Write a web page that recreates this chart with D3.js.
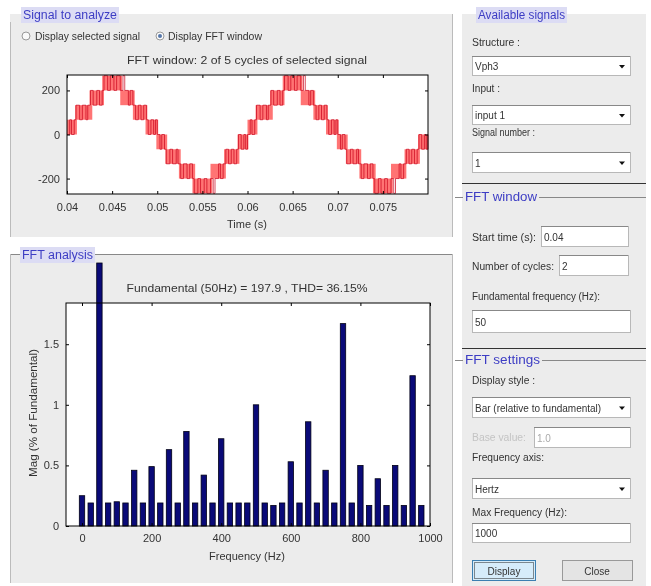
<!DOCTYPE html>
<html>
<head>
<meta charset="utf-8">
<script src="https://cdn.jsdelivr.net/npm/d3@7"></script>
<style>
  body { margin: 0; background: #fff; }
  svg { filter: blur(0.35px); }
  svg text { font-family: "Liberation Sans", Arial, sans-serif; fill: #333; }
</style>
</head>
<body>
<div id="chart"></div>
<script>
// FFT spectrum, bars every 25 Hz (% of fundamental)
const freqs = [0, 25, 50, 75, 100, 125, 150, 175, 200, 225, 250, 275, 300, 325, 350, 375,
  400, 425, 450, 475, 500, 525, 550, 575, 600, 625, 650, 675, 700, 725, 750, 775,
  800, 825, 850, 875, 900, 925, 950, 975]
const mags = [0.25, 0.19, 2.17, 0.19, 0.2, 0.19, 0.46, 0.19, 0.49, 0.19, 0.63, 0.19, 0.78, 0.19, 0.42, 0.19,
  0.72, 0.19, 0.19, 0.19, 1.0, 0.19, 0.17, 0.19, 0.53, 0.19, 0.86, 0.19, 0.46, 0.19, 1.67, 0.19,
  0.5, 0.17, 0.39, 0.17, 0.5, 0.17, 1.24, 0.17]
const freqTicks = [0, 200, 400, 600, 800, 1000]
const magTicks = [0, 0.5, 1, 1.5]
const magTickLabels = ['0', '0.5', '1', '1.5']

// signal: dense switching bands (ms, V)
const bandStart = [40.0, 40.9, 42.5, 43.9, 45.9, 47.3, 48.7, 49.9, 50.9, 52.4, 53.9, 55.9, 57.4, 58.9,
  60.0, 60.9, 62.5, 63.9, 65.9, 67.3, 68.7, 69.9, 70.9, 72.4, 73.9, 75.9, 77.4, 78.9]
const bandEnd = [41.1, 42.8, 44.1, 46.1, 47.5, 48.9, 50.1, 51.1, 52.6, 54.2, 56.1, 57.6, 59.1, 60.1,
  61.1, 62.8, 64.1, 66.1, 67.5, 68.9, 70.1, 71.1, 72.6, 74.2, 76.1, 77.6, 79.1, 80.0]
const bandLow = [0, 67, 133, 200, 133, 67, 0, -67, -133, -200, -267, -200, -133, -67,
  0, 67, 133, 200, 133, 67, 0, -67, -133, -200, -267, -200, -133, -67]
const bandHigh = [67, 133, 200, 267, 200, 133, 67, 0, -67, -133, -200, -133, -67, 0,
  67, 133, 200, 267, 200, 133, 67, 0, -67, -133, -200, -133, -67, 0]

// signal: switching instants (ms) and levels (V), held until the next instant
const sigTime = [
  40.0, 40.3, 40.5, 40.8, 41.0, 41.4, 41.7, 42.1, 42.3, 42.6, 42.9, 43.3, 43.6, 43.9, 44.1, 44.5, 44.8,
  45.2, 45.5, 45.9, 46.2, 46.4, 46.8, 47.0, 47.3, 47.6, 47.9, 48.2, 48.5, 48.8, 49.0, 49.3, 49.6, 49.8,
  50.0, 50.3, 50.5, 50.8, 51.0, 51.4, 51.7, 52.1, 52.3, 52.6, 52.9, 53.3, 53.6, 53.9, 54.1, 54.5, 54.8,
  55.2, 55.5, 55.9, 56.2, 56.4, 56.8, 57.0, 57.3, 57.6, 57.9, 58.2, 58.5, 58.8, 59.0, 59.3, 59.6, 59.8,
  60.0, 60.3, 60.5, 60.8, 61.0, 61.4, 61.7, 62.1, 62.3, 62.6, 62.9, 63.3, 63.6, 63.9, 64.1, 64.5, 64.8,
  65.2, 65.5, 65.9, 66.2, 66.4, 66.8, 67.0, 67.3, 67.6, 67.9, 68.2, 68.5, 68.8, 69.0, 69.3, 69.6, 69.8,
  70.0, 70.3, 70.5, 70.8, 71.0, 71.4, 71.7, 72.1, 72.3, 72.6, 72.9, 73.3, 73.6, 73.9, 74.1, 74.5, 74.8,
  75.2, 75.5, 75.9, 76.2, 76.4, 76.8, 77.0, 77.3, 77.6, 77.9, 78.2, 78.5, 78.8, 79.0, 79.3, 79.6, 79.8, 80.0]
const sigVolt = [
  0, 67, 0, 67, 133, 67, 133, 67, 133, 200, 133, 200, 133, 200, 267, 200, 267,
  200, 267, 200, 267, 200, 133, 200, 133, 67, 133, 67, 133, 67, 0, 67, 0, 67,
  0, -67, 0, -67, -133, -67, -133, -67, -133, -200, -133, -200, -133, -200, -267, -200, -267,
  -200, -267, -200, -267, -200, -133, -200, -133, -67, -133, -67, -133, -67, 0, -67, 0, -67,
  0, 67, 0, 67, 133, 67, 133, 67, 133, 200, 133, 200, 133, 200, 267, 200, 267,
  200, 267, 200, 267, 200, 133, 200, 133, 67, 133, 67, 133, 67, 0, 67, 0, 67,
  0, -67, 0, -67, -133, -67, -133, -67, -133, -200, -133, -200, -133, -200, -267, -200, -267,
  -200, -267, -200, -267, -200, -133, -200, -133, -67, -133, -67, -133, -67, 0, -67, 0, -67, 0]
const timeTicks = [0.04, 0.045, 0.05, 0.055, 0.06, 0.065, 0.07, 0.075]
const timeTickLabels = ['0.04', '0.045', '0.05', '0.055', '0.06', '0.065', '0.07', '0.075']
const voltTicks = [-200, 0, 200]
const voltTickLabels = ['-200', '0', '200']

const W = 651, H = 586
const svg = d3.select('#chart').append('svg')
  .attr('width', W).attr('height', H)

const gray = '#ececec'
const titleBlue = '#3d3dc4'

// ---------- panels ----------
svg.append('rect').attr('x', 10).attr('y', 14).attr('width', 443).attr('height', 223).attr('fill', gray)
svg.append('rect').attr('x', 10).attr('y', 254).attr('width', 443).attr('height', 329).attr('fill', gray)
svg.append('rect').attr('x', 462).attr('y', 14).attr('width', 184).attr('height', 572).attr('fill', gray)
svg.append('line').attr('x1', 10.5).attr('x2', 10.5).attr('y1', 22).attr('y2', 237).attr('stroke', '#bbb')
svg.append('line').attr('x1', 452.5).attr('x2', 452.5).attr('y1', 14).attr('y2', 237).attr('stroke', '#bbb')
svg.append('line').attr('x1', 10).attr('x2', 453).attr('y1', 254.5).attr('y2', 254.5).attr('stroke', '#888')
svg.append('line').attr('x1', 10.5).attr('x2', 10.5).attr('y1', 254).attr('y2', 583).attr('stroke', '#bbb')
svg.append('line').attr('x1', 452.5).attr('x2', 452.5).attr('y1', 254).attr('y2', 583).attr('stroke', '#bbb')

function groupTitle (x, y, text, w) {
  svg.append('rect').attr('x', x - 2).attr('y', y - 8).attr('width', w + 4).attr('height', 16).attr('fill', '#dcdcf4')
  svg.append('text').attr('x', x).attr('y', y).attr('dy', '0.35em')
    .attr('textLength', w).attr('lengthAdjust', 'spacingAndGlyphs')
    .style('font-size', '12px').style('fill', titleBlue).text(text)
}
groupTitle(23, 15, 'Signal to analyze', 94)
groupTitle(22, 255, 'FFT analysis', 71)
groupTitle(478, 15, 'Available signals', 87)

// radio buttons
svg.append('circle').attr('cx', 26).attr('cy', 36).attr('r', 4).attr('fill', '#fafafa').attr('stroke', '#999')
svg.append('text').attr('x', 35).attr('y', 36).attr('dy', '0.35em').attr('textLength', 105)
  .attr('lengthAdjust', 'spacingAndGlyphs').style('font-size', '10px').text('Display selected signal')
svg.append('circle').attr('cx', 160).attr('cy', 36).attr('r', 4).attr('fill', '#fafafa').attr('stroke', '#999')
svg.append('circle').attr('cx', 160).attr('cy', 36).attr('r', 2).attr('fill', '#5577aa')
svg.append('text').attr('x', 168).attr('y', 36).attr('dy', '0.35em').attr('textLength', 94)
  .attr('lengthAdjust', 'spacingAndGlyphs').style('font-size', '10px').text('Display FFT window')

// ---------- signal plot ----------
const xT = d3.scaleLinear().domain([0.04, 0.08]).range([67, 428])
const yT = d3.scaleLinear().domain([-270, 270]).range([194, 75])

svg.append('rect').attr('x', 67).attr('y', 75).attr('width', 361).attr('height', 119).attr('fill', '#fff')

const sig = svg.append('g')
sig.selectAll('rect.band')
  .data(bandStart)
  .enter().append('rect')
    .attr('class', 'band')
    .attr('x', (d, i) => xT(d / 1000))
    .attr('width', (d, i) => xT(bandEnd[i] / 1000) - xT(d / 1000))
    .attr('y', (d, i) => yT(Math.min(270, bandHigh[i])))
    .attr('height', (d, i) => yT(Math.max(-270, bandLow[i])) - yT(Math.min(270, bandHigh[i])))
    .attr('fill', '#ff5c5c').attr('opacity', 0.85)

const sigPts = sigTime.map((t, i) => [t / 1000, Math.max(-270, Math.min(270, sigVolt[i]))])
sig.append('path')
  .datum(sigPts)
  .attr('fill', 'none').attr('stroke', '#c8001a').attr('stroke-width', 0.7)
  .attr('d', d3.line().x(d => xT(d[0])).y(d => yT(d[1])).curve(d3.curveStepAfter))

svg.append('rect').attr('x', 67).attr('y', 75).attr('width', 361).attr('height', 119)
  .attr('fill', 'none').attr('stroke', '#000')

function styleAxis (g) {
  g.select('.domain').remove()
  g.selectAll('line').attr('stroke', '#000')
  g.selectAll('text').style('font-size', '11px').style('fill', '#333')
}

svg.append('g').attr('transform', 'translate(0,194)')
  .call(d3.axisBottom(xT).tickValues(timeTicks).tickFormat((d, i) => timeTickLabels[i]).tickSizeInner(-3).tickPadding(9))
  .call(styleAxis)
svg.append('g').attr('transform', 'translate(0,75)')
  .call(d3.axisTop(xT).tickValues(timeTicks).tickFormat('').tickSizeInner(-3))
  .call(styleAxis)
svg.append('g').attr('transform', 'translate(67,0)')
  .call(d3.axisLeft(yT).tickValues(voltTicks).tickFormat((d, i) => voltTickLabels[i]).tickSizeInner(-3).tickPadding(7))
  .call(styleAxis)
svg.append('g').attr('transform', 'translate(428,0)')
  .call(d3.axisRight(yT).tickValues(voltTicks).tickFormat('').tickSizeInner(-3))
  .call(styleAxis)

svg.append('text').attr('x', 247).attr('y', 60).attr('text-anchor', 'middle').attr('dy', '0.35em')
  .attr('textLength', 240).attr('lengthAdjust', 'spacingAndGlyphs')
  .style('font-size', '11px').text('FFT window: 2 of 5 cycles of selected signal')
svg.append('text').attr('x', 247).attr('y', 224).attr('text-anchor', 'middle').attr('dy', '0.35em')
  .style('font-size', '11px').text('Time (s)')

// ---------- FFT bar plot ----------
const xF = d3.scaleLinear().domain([-46, 1000]).range([66, 430])
const yF = d3.scaleLinear().domain([0, 1.84]).range([526, 303])
const barW = (xF(25) - xF(0)) * 0.62

svg.append('rect').attr('x', 66).attr('y', 303).attr('width', 364).attr('height', 223).attr('fill', '#fff')

svg.selectAll('rect.bar')
  .data(freqs)
  .enter().append('rect')
    .attr('class', 'bar')
    .attr('x', d => xF(d) - barW / 2)
    .attr('width', barW)
    .attr('y', (d, i) => yF(mags[i]))
    .attr('height', (d, i) => yF(0) - yF(mags[i]))
    .attr('fill', '#0a0a78').attr('stroke', '#000014').attr('stroke-width', 0.8)

svg.append('rect').attr('x', 66).attr('y', 303).attr('width', 364).attr('height', 223)
  .attr('fill', 'none').attr('stroke', '#000')

svg.append('g').attr('transform', 'translate(0,526)')
  .call(d3.axisBottom(xF).tickValues(freqTicks).tickFormat(d3.format('d')).tickSizeInner(-3).tickPadding(8))
  .call(styleAxis)
svg.append('g').attr('transform', 'translate(0,303)')
  .call(d3.axisTop(xF).tickValues(freqTicks).tickFormat('').tickSizeInner(-3))
  .call(styleAxis)
svg.append('g').attr('transform', 'translate(66,0)')
  .call(d3.axisLeft(yF).tickValues(magTicks).tickFormat((d, i) => magTickLabels[i]).tickSizeInner(-3).tickPadding(7))
  .call(styleAxis)
svg.append('g').attr('transform', 'translate(430,0)')
  .call(d3.axisRight(yF).tickValues(magTicks).tickFormat('').tickSizeInner(-3))
  .call(styleAxis)

svg.append('text').attr('x', 247).attr('y', 288).attr('text-anchor', 'middle').attr('dy', '0.35em')
  .attr('textLength', 241).attr('lengthAdjust', 'spacingAndGlyphs')
  .style('font-size', '11.5px').text('Fundamental (50Hz) = 197.9 , THD= 36.15%')
svg.append('text').attr('x', 247).attr('y', 556).attr('text-anchor', 'middle').attr('dy', '0.35em')
  .style('font-size', '11px').text('Frequency (Hz)')
svg.append('text').attr('transform', 'translate(33,413) rotate(-90)').attr('text-anchor', 'middle').attr('dy', '0.35em')
  .attr('textLength', 128).attr('lengthAdjust', 'spacingAndGlyphs')
  .style('font-size', '11px').text('Mag (% of Fundamental)')

// ---------- right-hand controls ----------
function label (x, y, text, w, color) {
  svg.append('text').attr('x', x).attr('y', y).attr('dy', '0.35em')
    .attr('textLength', w).attr('lengthAdjust', 'spacingAndGlyphs')
    .style('font-size', '10px').style('fill', color || '#333').text(text)
}
function box (x, y, w, h, text, arrow, color) {
  svg.append('rect').attr('x', x + 0.5).attr('y', y + 0.5).attr('width', w).attr('height', h)
    .attr('fill', '#fff').attr('stroke', '#b8b8b8')
  svg.append('line').attr('x1', x).attr('x2', x + w).attr('y1', y + 0.5).attr('y2', y + 0.5).attr('stroke', '#888')
  svg.append('text').attr('x', x + 3).attr('y', y + h / 2 + 1).attr('dy', '0.35em')
    .style('font-size', '10px').style('fill', color || '#333').text(text)
  if (arrow) {
    const ax = x + w - 8, ay = y + h / 2 + 1
    svg.append('path').attr('d', `M${ax - 3},${ay - 1.5}L${ax + 3},${ay - 1.5}L${ax},${ay + 2}Z`).attr('fill', '#111')
  }
}
function sectionTitle (y, text, w) {
  svg.append('line').attr('x1', 455).attr('x2', 646).attr('y1', y + 0.5).attr('y2', y + 0.5).attr('stroke', '#888')
  svg.append('rect').attr('x', 463).attr('y', y - 8).attr('width', w + 4).attr('height', 16).attr('fill', gray)
  svg.append('text').attr('x', 465).attr('y', y).attr('dy', '0.35em')
    .attr('textLength', w).attr('lengthAdjust', 'spacingAndGlyphs')
    .style('font-size', '12px').style('fill', titleBlue).text(text)
}

label(472, 42, 'Structure :', 48)
box(472, 56, 158, 19, 'Vph3', true)
label(472, 88, 'Input :', 28)
box(472, 105, 158, 19, 'input 1', true)
label(472, 132, 'Signal number :', 63)
box(472, 152, 158, 20, '1', true)

svg.append('line').attr('x1', 462).attr('x2', 646).attr('y1', 183.5).attr('y2', 183.5).attr('stroke', '#333')
sectionTitle(197, 'FFT window', 72)
label(472, 237, 'Start time (s):', 64)
box(541, 226, 87, 20, '0.04')
label(472, 266, 'Number of cycles:', 82)
box(559, 255, 69, 20, '2')
label(472, 296, 'Fundamental frequency (Hz):', 128)
box(472, 310, 158, 22, '50')

svg.append('line').attr('x1', 462).attr('x2', 646).attr('y1', 348.5).attr('y2', 348.5).attr('stroke', '#333')
sectionTitle(360, 'FFT settings', 75)
label(472, 380, 'Display style :', 63)
box(472, 397, 158, 20, 'Bar (relative to fundamental)', true)
label(472, 437, 'Base value:', 54, '#c4c4c4')
box(534, 427, 96, 20, '1.0', false, '#aaa')
label(472, 457, 'Frequency axis:', 72)
box(472, 478, 158, 20, 'Hertz', true)
label(472, 512, 'Max Frequency (Hz):', 95)
box(472, 523, 158, 19, '1000')

// buttons
svg.append('rect').attr('x', 472.5).attr('y', 560.5).attr('width', 63).attr('height', 20)
  .attr('fill', '#d6ecfa').attr('stroke', '#3c7fb1')
svg.append('rect').attr('x', 474.5).attr('y', 562.5).attr('width', 59).attr('height', 16)
  .attr('fill', 'none').attr('stroke', '#222').attr('stroke-dasharray', '1,1')
svg.append('text').attr('x', 504).attr('y', 571).attr('text-anchor', 'middle').attr('dy', '0.35em')
  .style('font-size', '10px').text('Display')
svg.append('rect').attr('x', 562.5).attr('y', 560.5).attr('width', 70).attr('height', 20)
  .attr('fill', '#e4e4e4').attr('stroke', '#999')
svg.append('text').attr('x', 597).attr('y', 571).attr('text-anchor', 'middle').attr('dy', '0.35em')
  .style('font-size', '10px').text('Close')
</script>
</body>
</html>
